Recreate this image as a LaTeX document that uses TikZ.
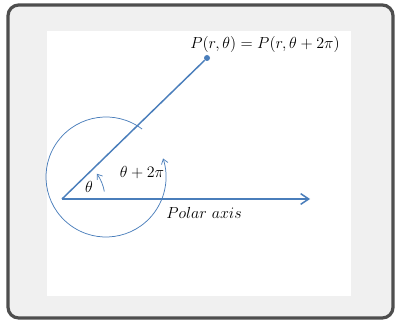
\documentclass[tikz,border=0pt]{standalone}
\usetikzlibrary{arrows.meta}
\definecolor{polarblue}{RGB}{74,126,187}
\definecolor{framegray}{RGB}{78,78,78}
\definecolor{panelgray}{RGB}{240,240,240}

\begin{document}
\begin{tikzpicture}[x=0.75pt,y=0.75pt,
  axisline/.style={polarblue,line width=1.1pt},
  turnline/.style={polarblue,line width=0.55pt,-{Straight Barb[length=3.5pt,width=5pt]}},
  lbl/.style={inner sep=0pt,font=\fontsize{11.5}{13}\selectfont}]
\useasboundingbox (0,0) rectangle (395,320);
% frame:
\draw[framegray,line width=2.4pt,fill=panelgray,rounded corners=8pt] (8,2) rectangle (393,315);
\fill[white] (47,24) rectangle (351,289);
% pole, point and axis:
\coordinate (O) at (62,121);
\coordinate (axisend) at (310,121);
\coordinate (C) at (106,143);
\node[circle,fill=polarblue,inner sep=0pt,minimum size=4.5pt] (P) at (207,262) {};
\draw[axisline] (O) -- (P);
\draw[axisline,-{Straight Barb[length=6pt,width=8pt]}] (O) -- (axisend);
% angles:
\draw[turnline] ([shift={(10:43)}]O) arc (10:36:43);
\draw[turnline] ([shift={(53:60)}]C) arc (53:378:60);
% labels:
\node[lbl] (Plbl) at (265,275) {$P(r,\theta) = P(r,\theta + 2\pi)$};
\node[lbl] (thetalbl) at (89,133) {$\theta$};
\node[lbl] (turnlbl) at (142,147) {$\theta + 2\pi$};
\node[lbl] (axislbl) at (204,107) {$Polar\ axis$};
\end{tikzpicture}
\end{document}
